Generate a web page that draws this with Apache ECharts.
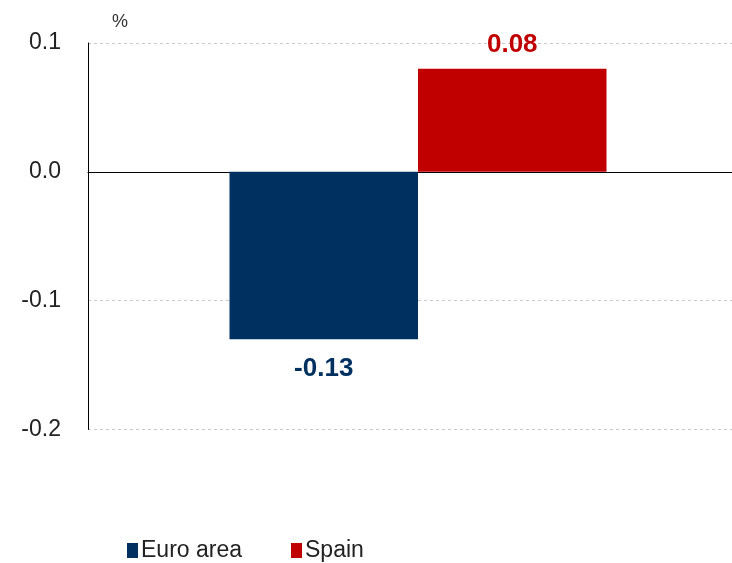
<!DOCTYPE html>
<html>
<head>
<meta charset="utf-8">
<script src="https://cdn.jsdelivr.net/npm/echarts@6/dist/echarts.min.js"></script>
<style>html,body{margin:0;padding:0;background:#fff}#c{width:732px;height:563px}</style>
</head>
<body>
<div id="c"></div>
<script>
var categories = [''];
var seriesNames = ['Euro area', 'Spain'];
var euroArea = [-0.13];
var spain = [0.08];
var yTicks = [-0.2, -0.1, 0.0, 0.1];
var unitLabel = '%';

var colors = ['#003060', '#C00000'];
var chart = echarts.init(document.getElementById('c'), null, {renderer: 'canvas'});
var font = '"Liberation Sans", Arial, Helvetica, sans-serif';
chart.setOption({
  animation: false,
  textStyle: {fontFamily: font},
  title: {text: unitLabel, left: 107, top: 8, textStyle: {fontSize: 18, fontWeight: 'normal', color: '#333', fontFamily: font}},
  grid: {left: 88, top: 43, width: 660, height: 386.5, containLabel: false, outerBoundsMode: 'none'},
  legend: {
    data: seriesNames, top: 539, left: 127, padding: 0, itemWidth: 11, itemHeight: 15, itemGap: 49,
    icon: 'rect',
    textStyle: {fontSize: 23, color: '#222', fontFamily: font, padding: [0, 0, 0, -2]}
  },
  xAxis: {
    type: 'category', data: categories,
    axisLine: {onZero: true, lineStyle: {color: '#000', width: 1.2}},
    axisTick: {show: false}, axisLabel: {show: false}
  },
  yAxis: {
    type: 'value', min: yTicks[0], max: yTicks[yTicks.length - 1], interval: 0.1,
    axisLine: {show: true, lineStyle: {color: '#000', width: 1}},
    axisTick: {show: false},
    splitLine: {lineStyle: {color: '#c8c8c8', type: [3, 3], width: 1}},
    axisLabel: {fontSize: 23, color: '#222', margin: 27, formatter: function (v) { return v.toFixed(1); }}
  },
  series: [
    {name: seriesNames[0], type: 'bar', data: euroArea, barWidth: 188.5, barGap: '0%',
     itemStyle: {color: colors[0]},
     label: {show: true, position: 'bottom', distance: 17, fontSize: 26, fontWeight: 'bold', color: colors[0],
       formatter: function (p) { return p.value.toFixed(2); }}},
    {name: seriesNames[1], type: 'bar', data: spain, barWidth: 188.5,
     itemStyle: {color: colors[1]},
     label: {show: true, position: 'top', distance: 11, fontSize: 26, fontWeight: 'bold', color: colors[1],
       formatter: function (p) { return p.value.toFixed(2); }}}
  ]
});
</script>
</body>
</html>
